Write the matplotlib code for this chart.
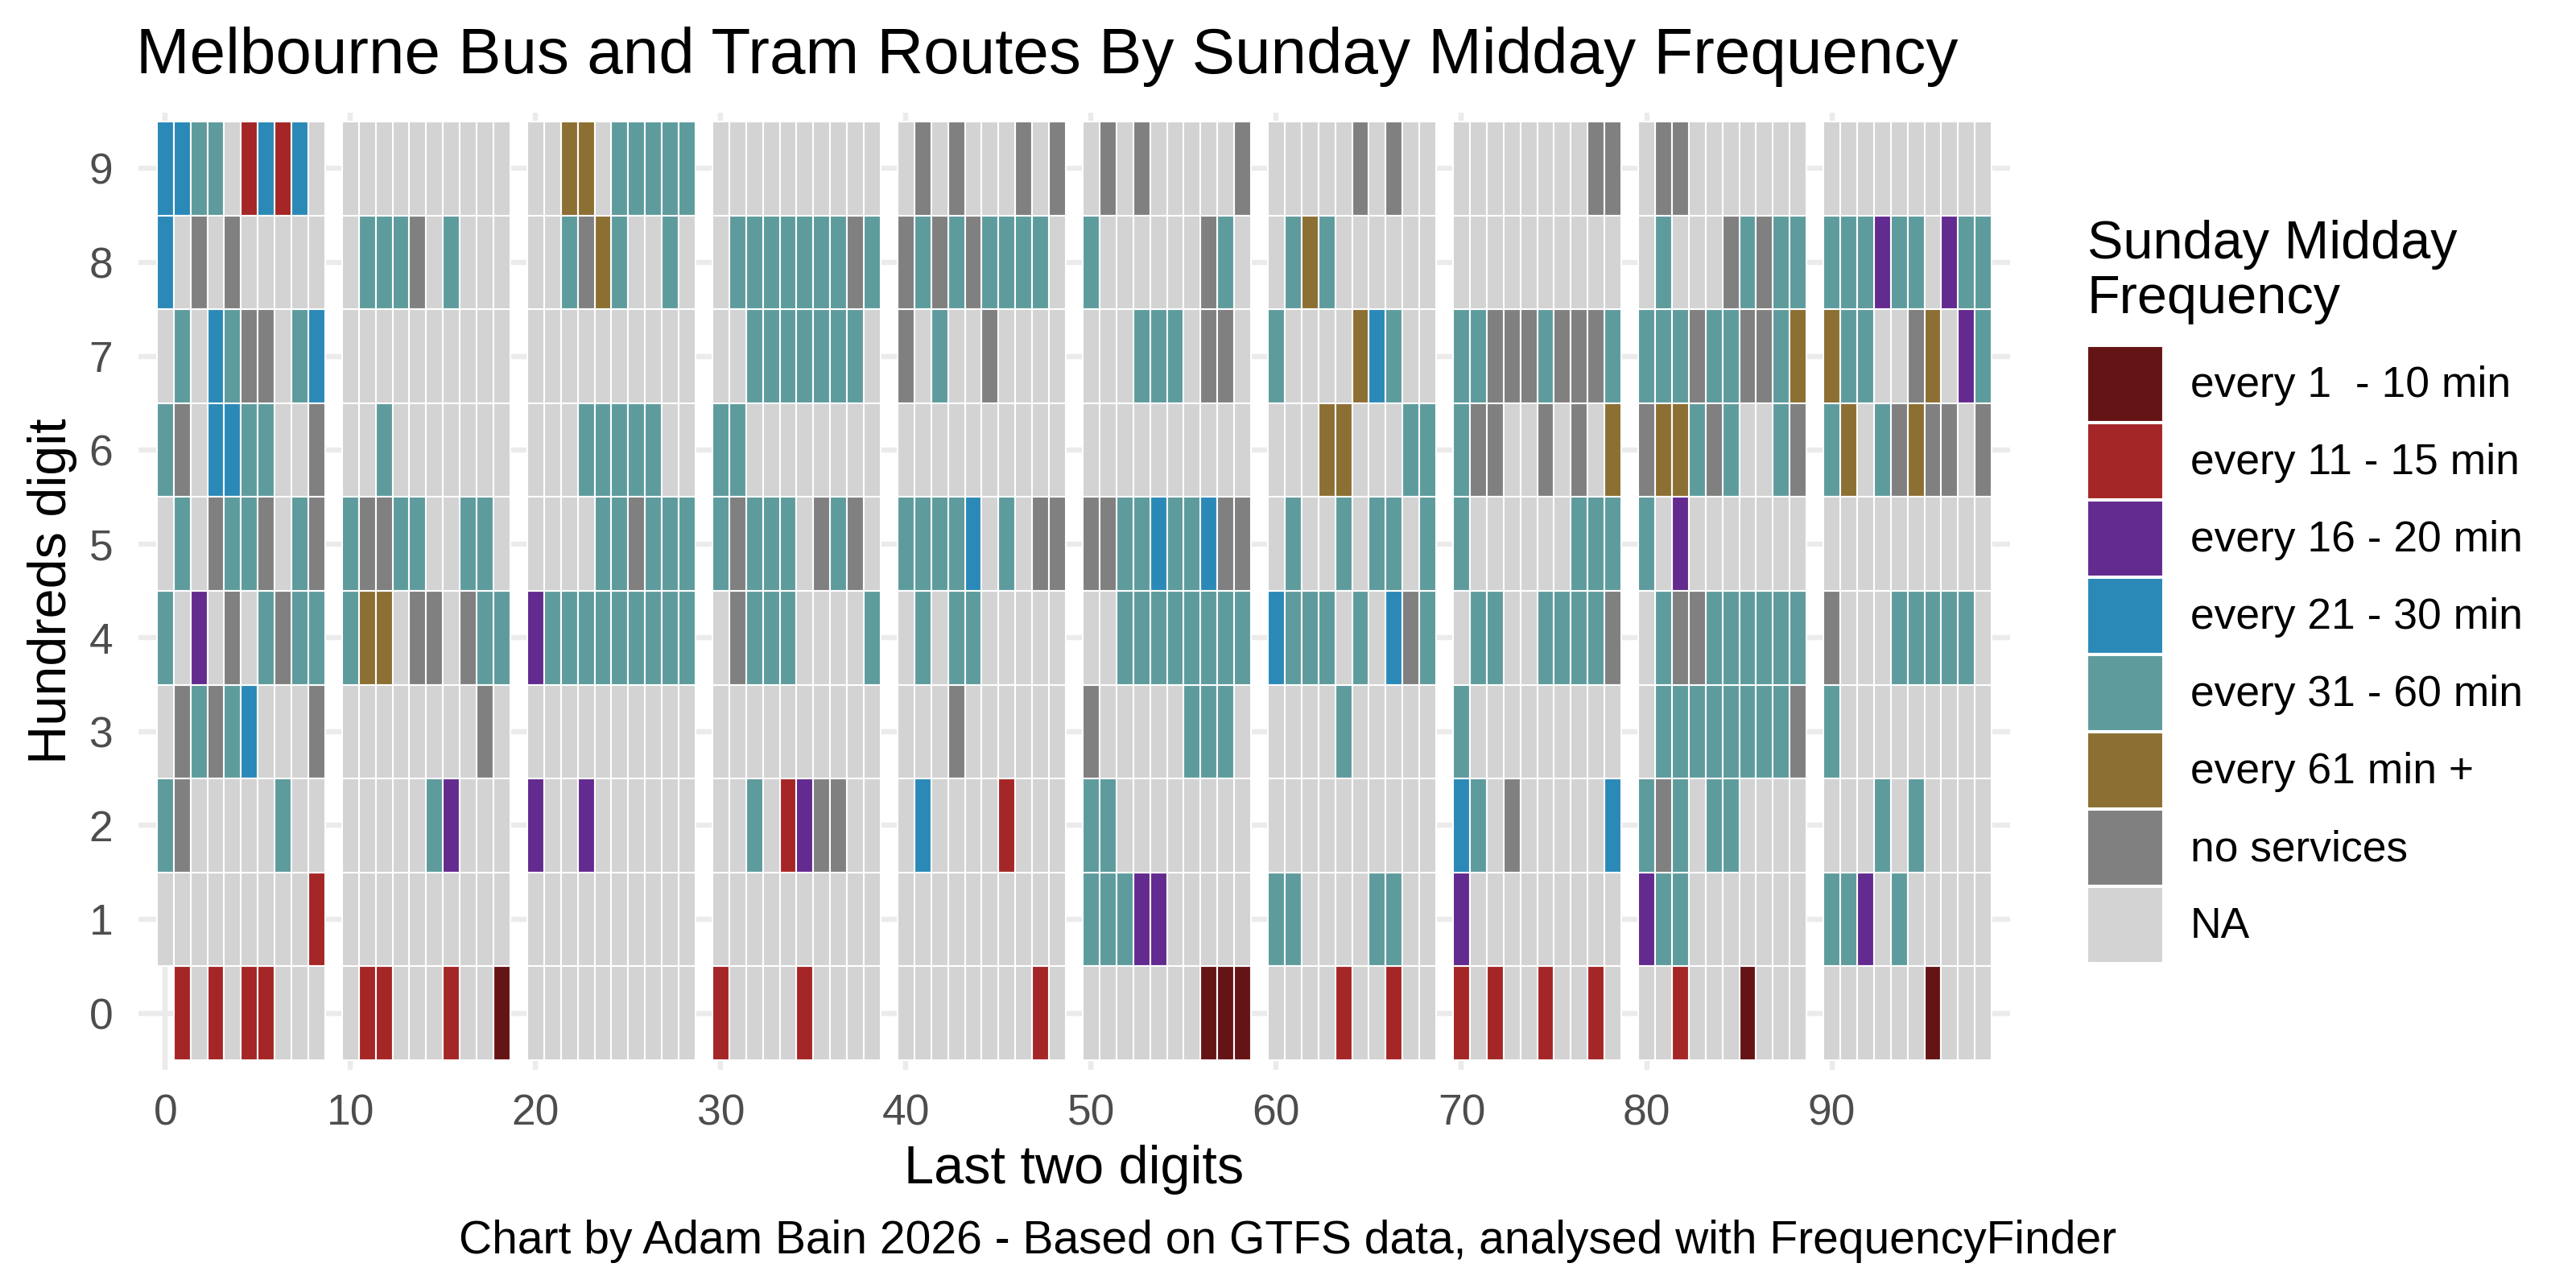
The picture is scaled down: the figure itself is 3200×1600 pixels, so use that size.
import matplotlib
matplotlib.use("Agg")
import matplotlib.pyplot as plt
from matplotlib.patches import Patch
import numpy as np

plt.rcParams['font.family'] = ['Liberation Sans', 'DejaVu Sans']

# ---- data -------------------------------------------------------------
# One string per hundreds digit; character i = route with last two digits i.
# R: 1-10, r: 11-15, P: 16-20, B: 21-30, T: 31-60, O: 61+, G: no services,
# N: NA, X: route not present
hundreds_9 = ("BBTTNrBrBN" "NNNNNNNNNN" "NNOONTTTTT" "NNNNNNNNNN" "NGNGNNNGNG"
              "NGNGNNNNNG" "NNNNNGNGNN" "NNNNNNNNGG" "NGGNNNNNNN" "NNNNNNNNNN")
hundreds_8 = ("BNGNGNNNNN" "NTTTGNTNNN" "NNTGOTNNTN" "NTTTTTTTGT" "GTGTGTTTTN"
              "TNNNNNNGTN" "NTOTNNNNNN" "NNNNNNNNNN" "NTNNNGTGTT" "TTTPTTNPTT")
hundreds_7 = ("NTNBTGGNTB" "NNNNNNNNNN" "NNNNNNNNNN" "NNTTTTTTTN" "GNTNNGNNNN"
              "NNNTTTNGGN" "TNNNNOBTNN" "TTGGGTGGGT" "TTTGTTGGTO" "OTTNNGONPT")
hundreds_6 = ("TGNBBTTNNG" "NNTNNNNNNN" "NNNTTTTTNN" "TTNNNNNNNN" "NNNNNNNNNN"
              "NNNNNNNNNN" "NNNOONNNTT" "TGGNNGNGNO" "GOOTGTNNTG" "TONTGOGGNG")
hundreds_5 = ("NTNGTTGNTG" "TGGTTNNTTN" "NNNNTTGTTT" "TGTTTNGTGN" "TTTTBNTNGG"
              "GGTTBTTBGG" "NTNNTNTTNT" "TNNNNNNTTT" "TNPNNNNNNN" "NNNNNNNNNN")
hundreds_4 = ("TNPNGNTGTT" "TOONGGNGTT" "PTTTTTTTTT" "NGTTTNNNNT" "NTNTTNNNNN"
              "NNTTTTTTTT" "BTTTNTNBGT" "NTTNNTTTTG" "NTGGTTTTTT" "GNNNTTTTTN")
hundreds_3 = ("NGTGTBNNNG" "NNNNNNNNGN" "NNNNNNNNNN" "NNNNNNNNNN" "NNNGNNNNNN"
              "GNNNNNTTTN" "NNNNTNNNNN" "TNNNNNNNNN" "NTTTTTTTTG" "TNNNNNNNNN")
hundreds_2 = ("TGNNNNNTNN" "NNNNNTPNNN" "PNNPNNNNNN" "NNTNrPGGNN" "NBNNNNrNNN"
              "TTNNNNNNNN" "NNNNNNNNNN" "BTNGNNNNNB" "TGTNTTNNNN" "NNNTNTNNNN")
hundreds_1 = ("NNNNNNNNNr" "NNNNNNNNNN" "NNNNNNNNNN" "NNNNNNNNNN" "NNNNNNNNNN"
              "TTTPPNNNNN" "TTNNNNTTNN" "PNNNNNNNNN" "PTTNNNNNNN" "TTPNTNNNNN")
hundreds_0 = ("XrNrNrrNNN" "NrrNNNrNNR" "NNNNNNNNNN" "rNNNNrNNNN" "NNNNNNNNrN"
              "NNNNNNNRRR" "NNNNrNNrNN" "rNrNNrNNrN" "NNrNNNRNNN" "NNNNNNRNNN")

category_codes = ["R", "r", "P", "B", "T", "O", "G", "N"]
category_labels = ["every 1  - 10 min", "every 11 - 15 min", "every 16 - 20 min",
                   "every 21 - 30 min", "every 31 - 60 min", "every 61 min +",
                   "no services", "NA"]
category_colors = ["#651415", "#A52626", "#632A8F", "#2B89B8",
                   "#5E9B9D", "#8C6F32", "#808080", "#D3D3D3"]

x_tick_values = [0, 10, 20, 30, 40, 50, 60, 70, 80, 90]
y_tick_values = list(range(10))

title = "Melbourne Bus and Tram Routes By Sunday Midday Frequency"
caption = "Chart by Adam Bain 2026 - Based on GTFS data, analysed with FrequencyFinder"

rows = [hundreds_0, hundreds_1, hundreds_2, hundreds_3, hundreds_4,
        hundreds_5, hundreds_6, hundreds_7, hundreds_8, hundreds_9]

# ---- figure -----------------------------------------------------------
W, H = 3200, 1600
fig = plt.figure(figsize=(W / 300, H / 300), dpi=300)

ax_l, ax_r, ax_t, ax_b = 172, 2497, 139.5, 1328.5
ax = fig.add_axes([ax_l / W, 1 - ax_b / H, (ax_r - ax_l) / W, (ax_b - ax_t) / H])


def pos(d):
    # each block of ten gets one empty column after it
    return d + d // 10


for code, label, color in zip(category_codes, category_labels, category_colors):
    xs, ys = [], []
    for h, row in enumerate(rows):
        for d, c in enumerate(row):
            if c == code:
                xs.append(pos(d))
                ys.append(h)
    if xs:
        ax.bar(np.array(xs), 1.0, bottom=np.array(ys) - 0.5, width=1.0,
               color=color, edgecolor="white", linewidth=0.5, zorder=2)

ax.set_xlim(-1.59, 108.5 + 1.09)
ax.set_ylim(-0.6, 9.6)
ax.set_xticks([pos(v) for v in x_tick_values])
ax.set_xticklabels([str(v) for v in x_tick_values])
ax.set_yticks(y_tick_values)
ax.set_yticklabels([str(v) for v in y_tick_values])
ax.set_axisbelow(True)
ax.grid(True, color="#EBEBEB", linewidth=1.55, zorder=0)
for s in ax.spines.values():
    s.set_visible(False)
ax.tick_params(axis="both", length=0, labelsize=12.8, labelcolor="#4D4D4D")
ax.tick_params(axis="x", pad=7.3)
ax.tick_params(axis="y", pad=7.6)

ax.set_xlabel("Last two digits", fontsize=16, color="black")
ax.xaxis.set_label_coords(0.5, (ax_b - 1422) / (ax_b - ax_t))
ax.set_ylabel("Hundreds digit", fontsize=16, color="black")
ax.yaxis.set_label_coords((95.6 - ax_l) / (ax_r - ax_l), 0.5)

ax.set_title(title, loc="left", fontsize=19.2, pad=0,
             x=(169 - ax_l) / (ax_r - ax_l), y=(ax_b - 91) / (ax_b - ax_t))

fig.text(0.5, 1 - 1557 / H, caption, ha="center", va="baseline", fontsize=13.7)

# ---- legend -----------------------------------------------------------
handles = [Patch(facecolor=c, edgecolor="white", linewidth=0.5) for c in category_colors]
fs = 12.8
em = fs * 300 / 72
key_px = 94
hh = (key_px / em - 0.245) / 0.65
leg = fig.legend(handles, category_labels, loc="upper left",
                 bbox_to_anchor=(2593 / W, 1 - 273 / H),
                 bbox_transform=fig.transFigure,
                 frameon=False, borderpad=0, borderaxespad=0,
                 fontsize=fs, title="Sunday Midday\nFrequency", title_fontsize=16,
                 handlelength=key_px / em, handleheight=hh,
                 labelspacing=2 / em, handletextpad=34 / em,
                 alignment="left")
leg.get_title().set_linespacing(1.12)
leg._legend_box.sep = 27 * 72 / 300

fig.savefig("out.png", dpi=300)
